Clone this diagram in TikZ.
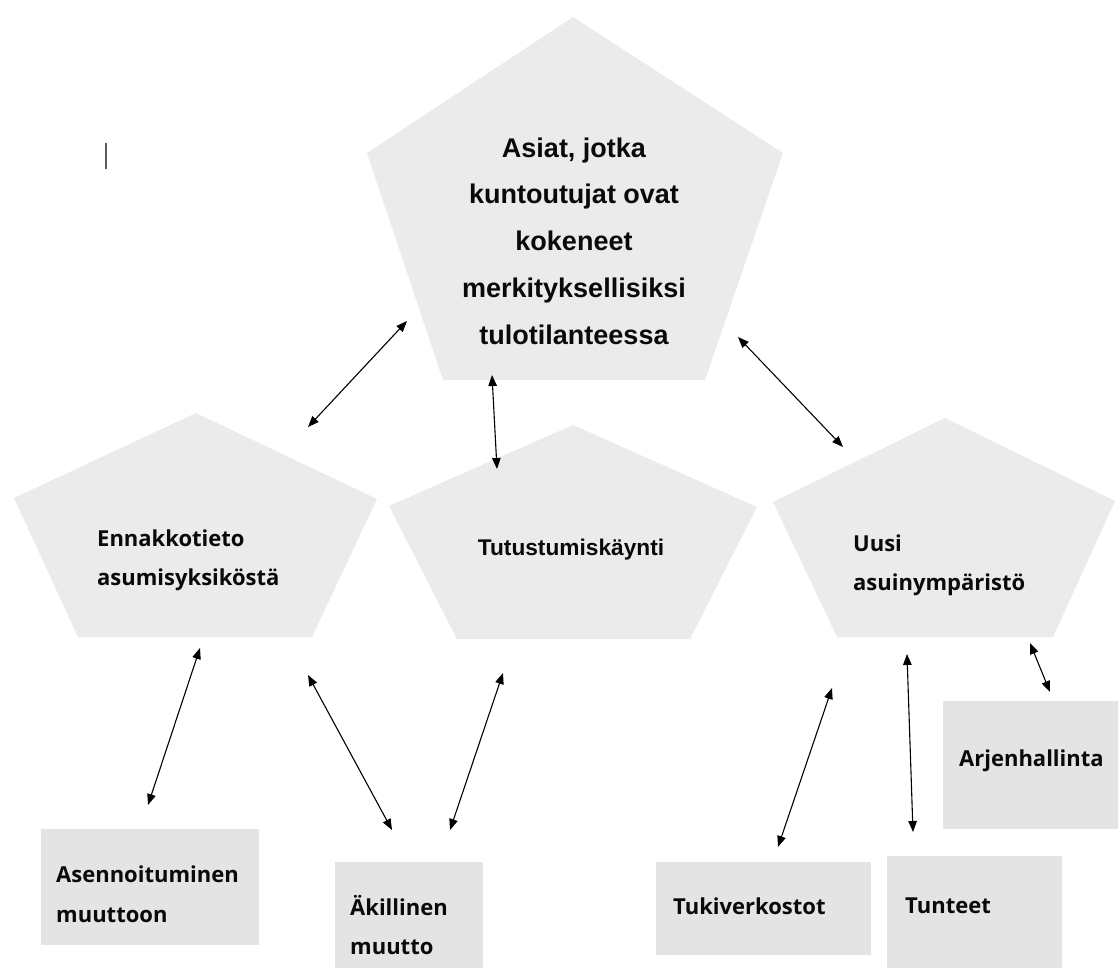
\documentclass[tikz,border=0pt]{standalone}
\usepackage{fontspec}
\setmainfont{Liberation Sans}
\newfontfamily\arialfont{Liberation Sans}
\newfontfamily\segfont{Open Sans}
\usetikzlibrary{arrows.meta}
\definecolor{pentfill}{HTML}{EBEBEB}
\definecolor{boxfill}{HTML}{E4E4E4}
\definecolor{txt}{HTML}{0A0A0A}
\newcommand\lnL[1]{\hbox{#1}}
\newcommand\lnC[1]{\hbox to 0pt{\hss#1\hss}}
\begin{document}
\begin{tikzpicture}[x=1pt,y=-1pt,
  pent/.style={fill=pentfill},
  boxn/.style={fill=boxfill, draw=none, inner sep=0pt, anchor=north west},
  toptext/.style={inner sep=0pt, anchor=base, text=txt, font=\arialfont\bfseries\fontsize{27}{30}\selectfont},
  midtext/.style={inner sep=0pt, anchor=base, text=txt, font=\arialfont\bfseries\fontsize{22.7}{26}\selectfont},
  lbl/.style={inner sep=0pt, anchor=base west, text=txt, font=\segfont\bfseries\fontsize{22}{26}\selectfont},
  biarrow/.style={{Triangle[length=11pt,width=8.5pt]}-{Triangle[length=11pt,width=8.5pt]}, line width=1.1pt, draw=black}
]
\useasboundingbox (0,0) rectangle (1120,970);

% pentagons
\fill[pent] (573,17) -- (783,153) -- (705,380) -- (443,380) -- (367,153) -- cycle;
\fill[pent] (196,413) -- (377,499) -- (312,637) -- (78,637) -- (14,498) -- cycle;
\fill[pent] (573,425) -- (757,507) -- (690,639) -- (457,639) -- (389,506) -- cycle;
\fill[pent] (945,418) -- (1115,501) -- (1053,637) -- (837,637) -- (773,502) -- cycle;

% boxes
\node[boxn, minimum width=218pt, minimum height=116pt] (bAsen) at (41,829) {};
\node[boxn, minimum width=148pt, minimum height=106pt] (bAkil) at (335,862) {};
\node[boxn, minimum width=215pt, minimum height=93pt] (bTuki) at (656,862) {};
\node[boxn, minimum width=175pt, minimum height=112pt] (bTunt) at (887,856) {};
\node[boxn, minimum width=175pt, minimum height=128pt] (bArje) at (943,701) {};

% texts
\node[toptext] (tTop) at (574,157) {\vtop{\baselineskip=46.8pt \lnC{Asiat, jotka}\lnC{kuntoutujat ovat}\lnC{kokeneet}\lnC{merkityksellisiksi}\lnC{tulotilanteessa}}};
\node[lbl] (tEnn) at (97,546) {\vtop{\baselineskip=39pt \lnL{Ennakkotieto}\lnL{asumisyksiköstä}}};
\node[midtext] (tTut) at (571,555) {Tutustumiskäynti};
\node[lbl] (tUus) at (853,551) {\vtop{\baselineskip=39pt \lnL{Uusi}\lnL{asuinympäristö}}};
\node[lbl] (tAsen) at (56,882) {\vtop{\baselineskip=40pt \lnL{Asennoituminen}\lnL{muuttoon}}};
\node[lbl] (tAkil) at (350,915) {\vtop{\baselineskip=39pt \lnL{Äkillinen}\lnL{muutto}}};
\node[lbl] (tTuki) at (673,914) {Tukiverkostot};
\node[lbl] (tTunt) at (905,913) {Tunteet};
\node[lbl] (tArje) at (959,766) {Arjenhallinta};

% arrow end points
\coordinate (a1s) at (308,427); \coordinate (a1e) at (407,321);
\coordinate (a2s) at (492,375); \coordinate (a2e) at (497,469);
\coordinate (a3s) at (738,337); \coordinate (a3e) at (843,447);
\coordinate (a4s) at (200,648); \coordinate (a4e) at (148,805);
\coordinate (a5s) at (308,675); \coordinate (a5e) at (392,830);
\coordinate (a6s) at (503,673); \coordinate (a6e) at (450,830);
\coordinate (a7s) at (832,688); \coordinate (a7e) at (778,847);
\coordinate (a8s) at (907,654); \coordinate (a8e) at (913,832);
\coordinate (a9s) at (1030,643); \coordinate (a9e) at (1050,692);

\draw[biarrow] (a1s) -- (a1e);
\draw[biarrow] (a2s) -- (a2e);
\draw[biarrow] (a3s) -- (a3e);
\draw[biarrow] (a4s) -- (a4e);
\draw[biarrow] (a5s) -- (a5e);
\draw[biarrow] (a6s) -- (a6e);
\draw[biarrow] (a7s) -- (a7e);
\draw[biarrow] (a8s) -- (a8e);
\draw[biarrow] (a9s) -- (a9e);

% small cursor-like mark
\coordinate (m1) at (106,143); \coordinate (m2) at (106,169);
\draw[line width=1.4pt, draw=black!65] (m1) -- (m2);
\end{tikzpicture}
\end{document}
